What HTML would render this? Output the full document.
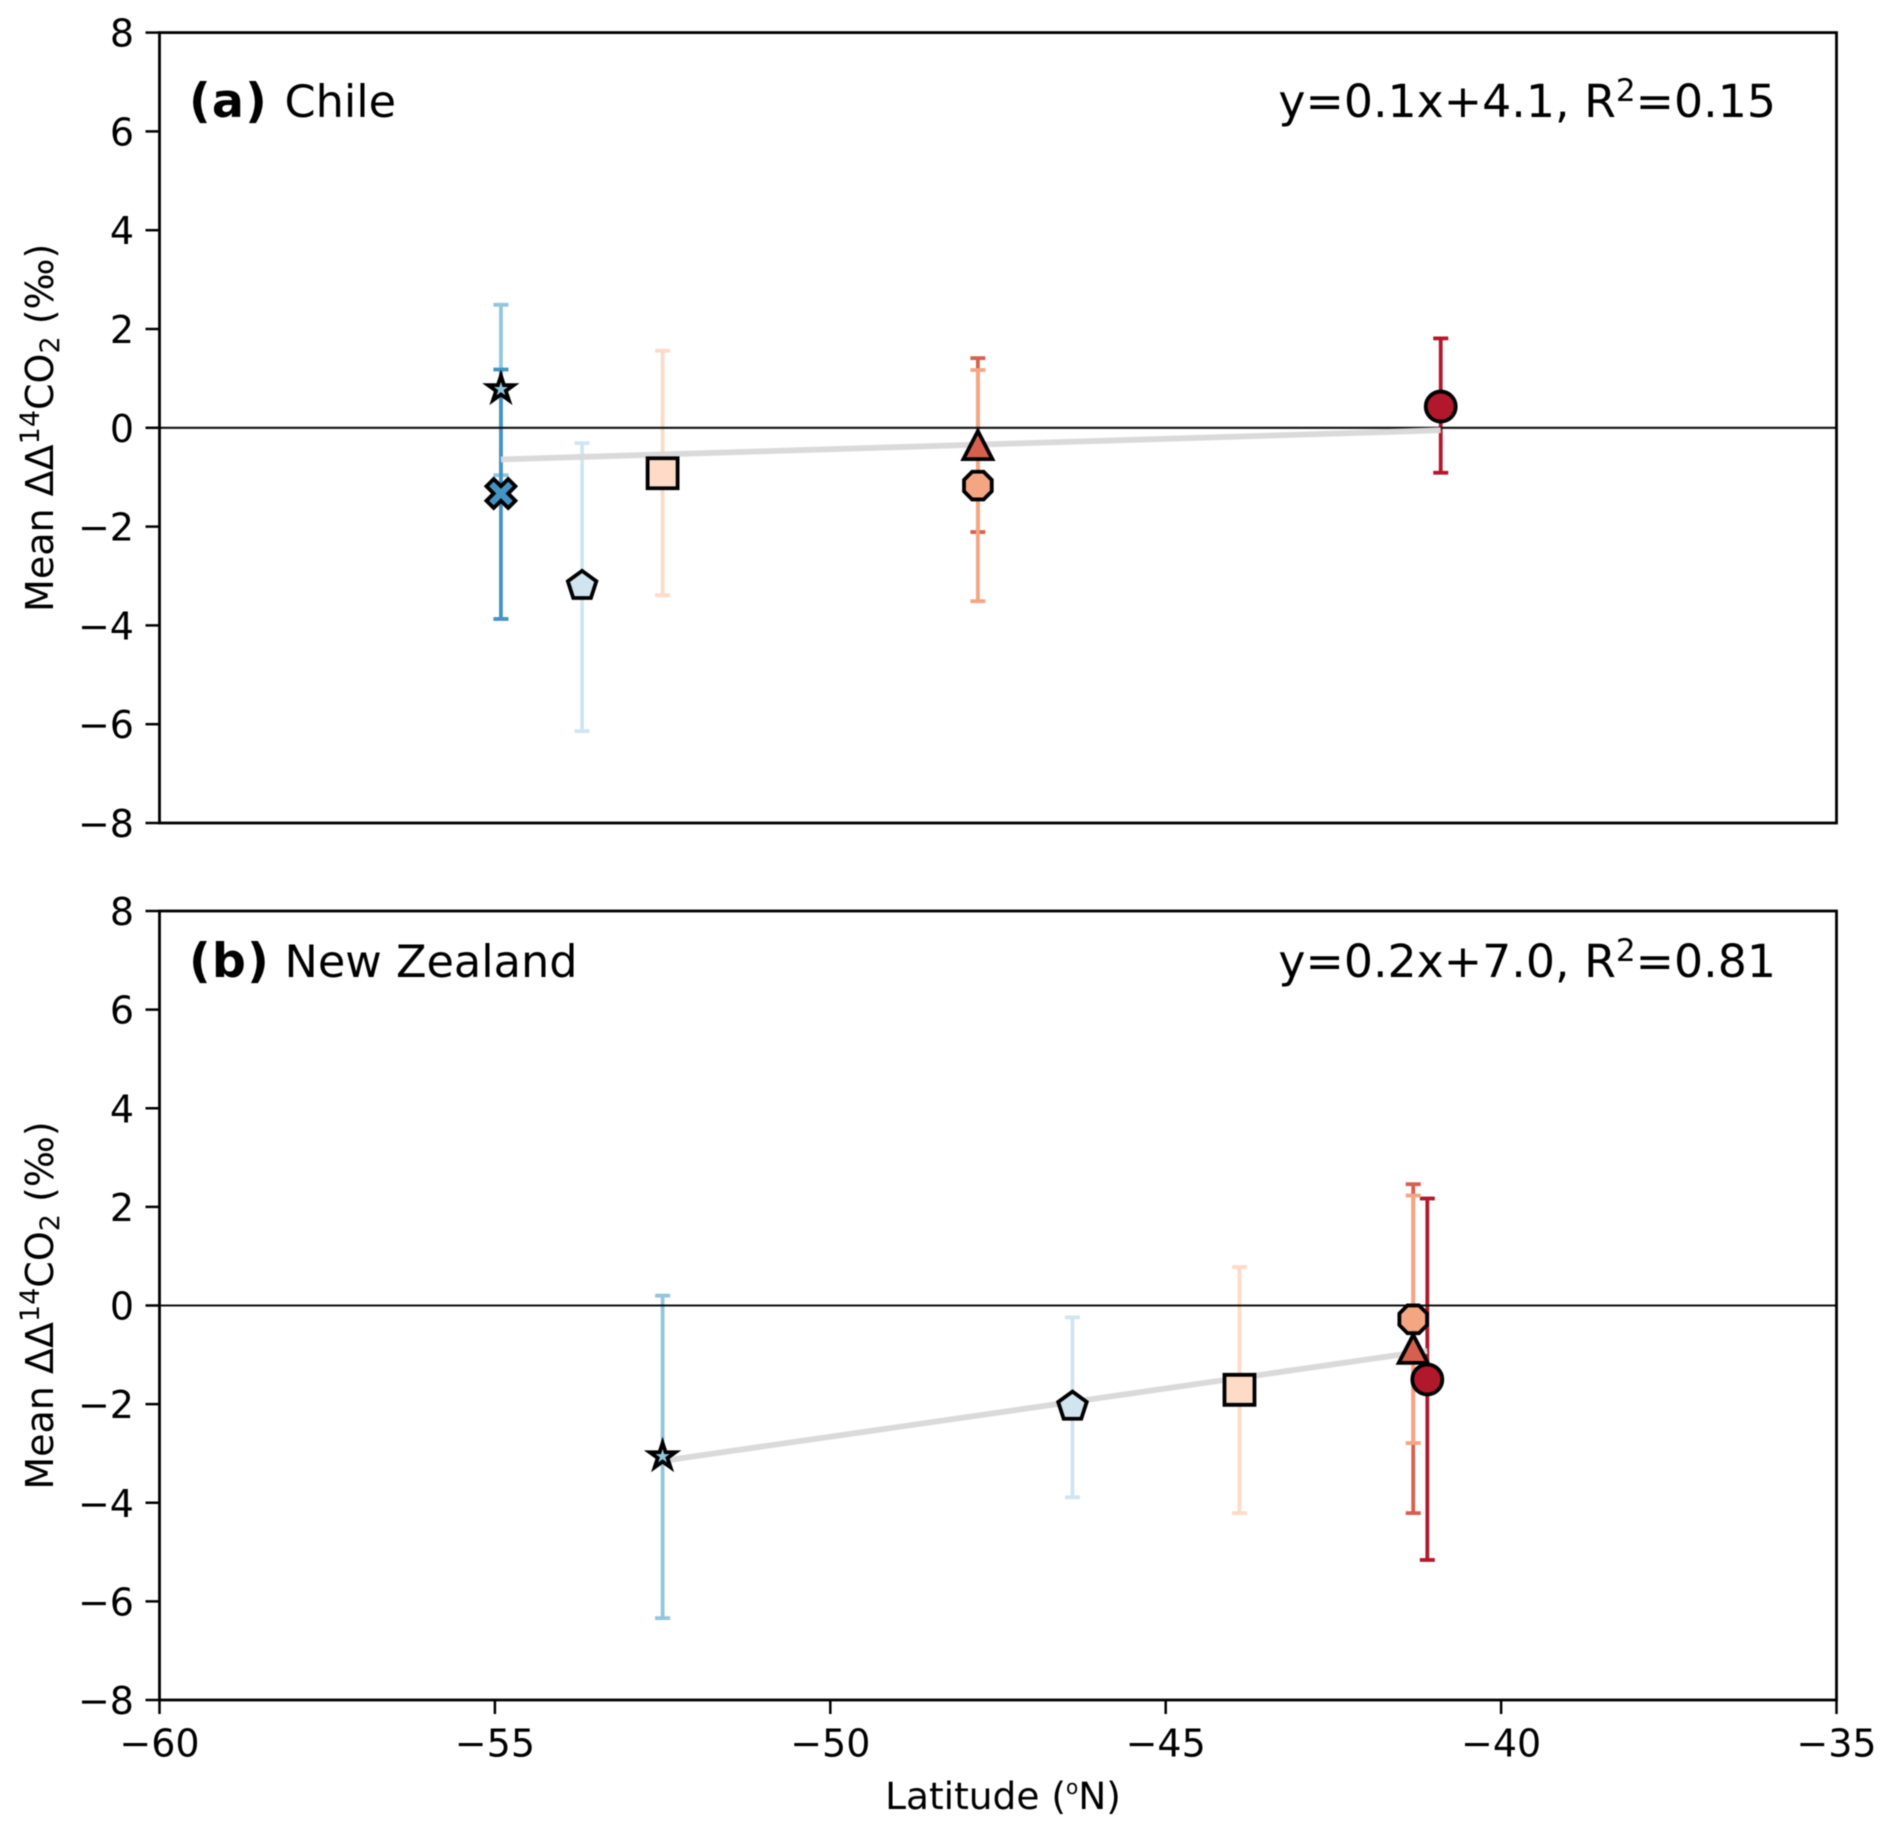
<!DOCTYPE html>
<html lang="en">
<head>
<meta charset="utf-8">
<title>Mean ΔΔ14CO2 by latitude</title>
<style>
  html, body { margin: 0; padding: 0; background: #fff; }
  svg { display: block; filter: blur(0.5px); }
  text { font-family: "DejaVu Sans", "Liberation Sans", sans-serif; fill: #000; }
</style>
</head>
<body>
<svg id="figure" xmlns="http://www.w3.org/2000/svg" width="1892" height="1833" viewBox="0 0 1892 1833">
  <rect width="1892" height="1833" fill="#ffffff"/>
  <g id="panel-a"></g>
  <g id="panel-b"></g>
  <text x="1003" y="1809" font-size="37.5" text-anchor="middle">Latitude (<tspan dy="-15" font-size="20">o</tspan><tspan dy="15">N)</tspan></text>
</svg>
<script>
// ---- Data ----
const latitudeTicks = [-60, -55, -50, -45, -40, -35];
const valueTicks = [-8, -6, -4, -2, 0, 2, 4, 6, 8];

// Series draw order (bars): circle, triangle, octagon, square, pentagon, star, cross
const seriesKeys = ['circle', 'triangle', 'octagon', 'square', 'pentagon', 'star', 'cross'];
const seriesColors = ['#b2182b', '#d6604d', '#f4a582', '#fddbc7', '#d1e5f0', '#92c5de', '#4393c3'];

const chileLatitude = [-40.9, -47.8, -47.8, -52.5, -53.7, -54.91, -54.91];
const chileMean = [0.43, -0.35, -1.17, -0.92, -3.2, 0.78, -1.33];
const chileLow = [-0.91, -2.11, -3.51, -3.39, -6.14, -0.96, -3.87];
const chileHigh = [1.81, 1.41, 1.17, 1.56, -0.31, 2.49, 1.18];
const chileFitLatitude = [-54.91, -40.9];
const chileFitValue = [-0.64, -0.05];

const zealandLatitude = [-41.1, -41.31, -41.31, -43.9, -46.39, -52.5];
const zealandMean = [-1.5, -0.88, -0.28, -1.71, -2.05, -3.06];
const zealandLow = [-5.16, -4.21, -2.79, -4.21, -3.89, -6.34];
const zealandHigh = [2.17, 2.46, 2.23, 0.78, -0.24, 0.2];
const zealandFitLatitude = [-52.5, -41.1];
const zealandFitValue = [-3.15, -0.92];

// ---- Layout ----
const NS = 'http://www.w3.org/2000/svg';
const plotLeft = 159.5, plotRight = 1836.5;
const latMin = -60, latMax = -35, valMin = -8, valMax = 8;
function xScale(lat) { return plotLeft + (lat - latMin) / (latMax - latMin) * (plotRight - plotLeft); }
function yScaleFor(top, bottom) { return function (v) { return bottom - (v - valMin) / (valMax - valMin) * (bottom - top); }; }

function make(tag, attrs, parent) {
  const el = document.createElementNS(NS, tag);
  for (const k in attrs) el.setAttribute(k, attrs[k]);
  parent.appendChild(el);
  return el;
}

function starPath(R) {
  const pts = [];
  for (let i = 0; i < 10; i++) {
    const r = i % 2 ? R * 0.382 : R, a = -Math.PI / 2 + i * Math.PI / 5;
    pts.push((r * Math.cos(a)).toFixed(2) + ',' + (r * Math.sin(a)).toFixed(2));
  }
  return 'M' + pts.join('L') + 'Z';
}
function regularPath(n, R, start) {
  const pts = [];
  for (let i = 0; i < n; i++) {
    const a = start + i * 2 * Math.PI / n;
    pts.push((R * Math.cos(a)).toFixed(2) + ',' + (R * Math.sin(a)).toFixed(2));
  }
  return 'M' + pts.join('L') + 'Z';
}
function crossPath(s) {
  const u = [[-1,-2],[0,-1],[1,-2],[2,-1],[1,0],[2,1],[1,2],[0,1],[-1,2],[-2,1],[-1,0],[-2,-1]];
  return 'M' + u.map(function (p) { return (p[0] * s / 2) + ',' + (p[1] * s / 2); }).join('L') + 'Z';
}
const markerPaths = {
  circle: 'M-15,0A15,15 0 1 1 15,0A15,15 0 1 1 -15,0Z',
  triangle: 'M0,-14L14.5,14L-14.5,14Z',
  octagon: regularPath(8, 15, Math.PI / 8),
  square: 'M-15,-15H15V15H-15Z',
  pentagon: regularPath(5, 15, -Math.PI / 2),
  star: starPath(13.5),
  cross: crossPath(14.5)
};

function drawPanel(panelId, top, bottom, showLatLabels, lats, means, lows, highs, fitLats, fitVals, labelBold, labelRest, labelBaseline, fitText, fitR2) {
  const root = document.getElementById(panelId);
  const y = yScaleFor(top, bottom);

  // error bars first, under everything else
  lats.forEach(function (lat, i) {
    const px = xScale(lat);
    const g = make('g', { stroke: seriesColors[i], 'stroke-width': 3.8, fill: 'none' }, root);
    
    
    make('line', { x1: px, x2: px, y1: y(lows[i]), y2: y(highs[i]) }, g);
    make('line', { x1: px - 7.5, x2: px + 7.5, y1: y(lows[i]), y2: y(lows[i]) }, g);
    make('line', { x1: px - 7.5, x2: px + 7.5, y1: y(highs[i]), y2: y(highs[i]) }, g);
  });

  // zero reference line
  const zero = make('line', { x1: plotLeft, x2: plotRight, y1: y(0), y2: y(0), stroke: '#111', 'stroke-width': 2.1 }, root);
  
  

  // regression line
  const fit = make('line', {
    x1: xScale(fitLats[0]), x2: xScale(fitLats[1]),
    y1: y(fitVals[0]), y2: y(fitVals[1]),
    stroke: '#d9d9d9', 'stroke-width': 5.8, opacity: 0.97
  }, root);
  
  

  // markers sit above bars and lines
  const markerOrder = [6, 5, 4, 3, 2, 1, 0];
  markerOrder.forEach(function (i) {
    if (i >= lats.length) return;
    const m = make('path', {
      d: markerPaths[seriesKeys[i]],
      transform: 'translate(' + xScale(lats[i]).toFixed(2) + ',' + y(means[i]).toFixed(2) + ')',
      fill: seriesColors[i], stroke: '#000', 'stroke-width': 3.8,
      'stroke-linejoin': 'miter', 'stroke-miterlimit': 6
    }, root);
    
    
  });

  // frame
  const frame = make('rect', { x: plotLeft, y: top, width: plotRight - plotLeft, height: bottom - top, fill: 'none', stroke: '#000', 'stroke-width': 2.8 }, root);
  
  

  // y axis
  valueTicks.forEach(function (v) {
    const t = make('line', { x1: plotLeft - 14, x2: plotLeft, y1: y(v), y2: y(v), stroke: '#000', 'stroke-width': 2.5 }, root);
    
    
    const l = make('text', { x: plotLeft - 25.5, y: y(v) + 14, 'font-size': 38, 'text-anchor': 'end' }, root);
    
    
    l.textContent = String(v).replace('-', '\u2212');
  });

  // x axis ticks (bottom panel only)
  if (showLatLabels) {
    latitudeTicks.forEach(function (v) {
      const t = make('line', { x1: xScale(v), x2: xScale(v), y1: bottom, y2: bottom + 14, stroke: '#000', 'stroke-width': 2.5 }, root);
      
      
      const l = make('text', { x: xScale(v), y: bottom + 56.5, 'font-size': 38, 'text-anchor': 'middle' }, root);
      
      
      l.textContent = String(v).replace('-', '\u2212');
    });
  }

  // y axis title
  const midY = (top + bottom) / 2;
  const yt = make('text', { transform: 'translate(53,' + midY + ') rotate(-90)', 'font-size': 38, 'text-anchor': 'middle' }, root);
  
  
  yt.appendChild(document.createTextNode('Mean \u0394\u0394'));
  const sup14 = make('tspan', { dy: -14, 'font-size': 27 }, yt);
  sup14.textContent = '14';
  const co = make('tspan', { dy: 14 }, yt);
  co.textContent = 'CO';
  const sub2 = make('tspan', { dy: 6, 'font-size': 27 }, yt);
  sub2.textContent = '2';
  const tail = make('tspan', { dy: -6 }, yt);
  tail.textContent = ' (\u2030)';

  // panel label
  const lab = make('text', { x: 189, y: labelBaseline, 'font-size': 44.6 }, root);
  
  
  const bold = make('tspan', { 'font-weight': 'bold', 'font-size': 47.5, 'letter-spacing': 1.2 }, lab);
  bold.textContent = labelBold;
  const rest = make('tspan', { x: 284.5 }, lab);
  rest.textContent = labelRest;

  // regression equation
  const eq = make('text', { x: 1776, y: labelBaseline, 'font-size': 45.8, 'text-anchor': 'end' }, root);
  
  
  eq.appendChild(document.createTextNode(fitText + ', R'));
  const sup = make('tspan', { dy: -16, 'font-size': 31 }, eq);
  sup.textContent = '2';
  const r2 = make('tspan', { dy: 16 }, eq);
  r2.textContent = '=' + fitR2;
}

drawPanel('panel-a', 32.6, 823, false, chileLatitude, chileMean, chileLow, chileHigh, chileFitLatitude, chileFitValue, '(a)', 'Chile', 117, 'y=0.1x+4.1', '0.15');
drawPanel('panel-b', 911, 1700, true, zealandLatitude, zealandMean, zealandLow, zealandHigh, zealandFitLatitude, zealandFitValue, '(b)', 'New Zealand', 977, 'y=0.2x+7.0', '0.81');
</script>
</body>
</html>
